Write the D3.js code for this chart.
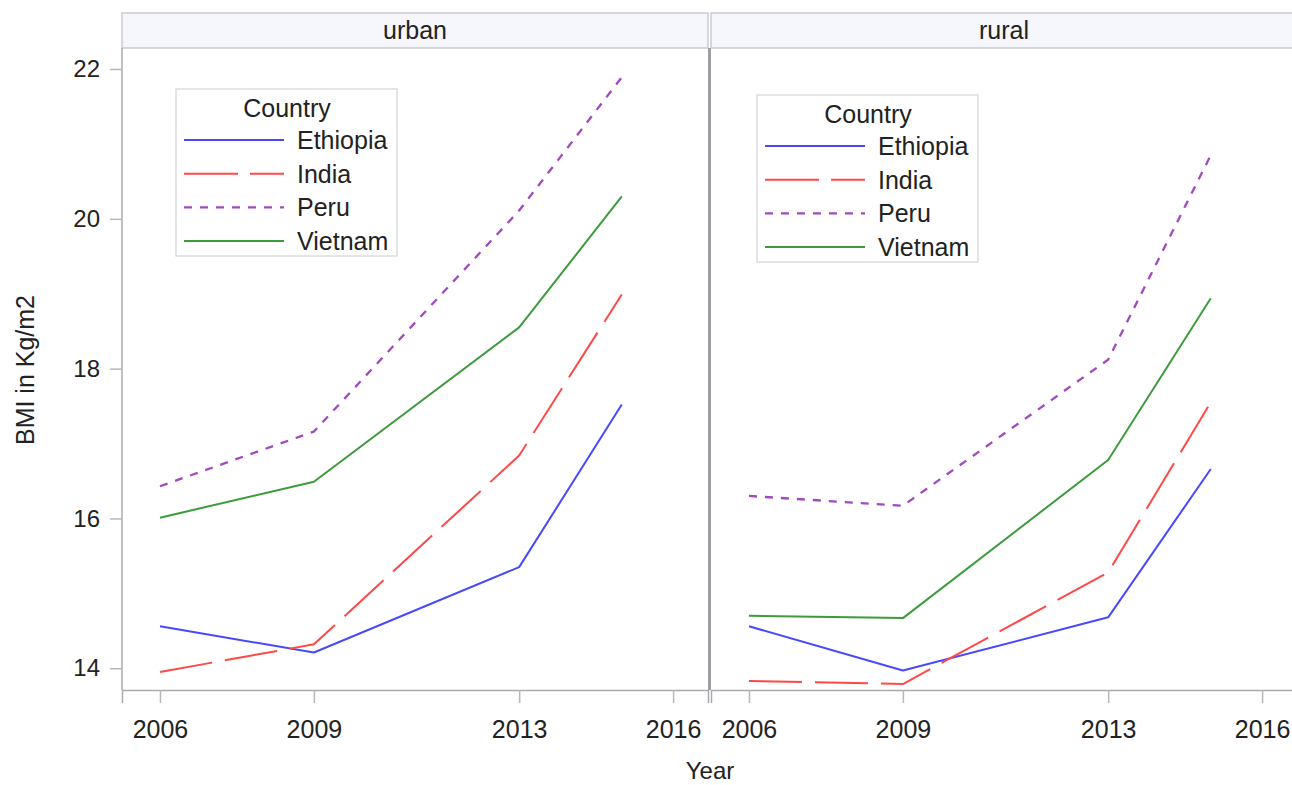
<!DOCTYPE html>
<html>
<head>
<meta charset="utf-8">
<script src="https://cdn.jsdelivr.net/npm/d3@7"></script>
<style>
  body { margin: 0; background: #fff; }
  svg text { font-family: "Liberation Sans", Arial, sans-serif; fill: #222; }
</style>
</head>
<body>
<svg id="chart" width="1292" height="785"></svg>
<script>
// Data: mean BMI by survey round, split by urban / rural residence
const years = [2006, 2009, 2013, 2015];
const panels = ["urban", "rural"];
const countries = ["Ethiopia", "India", "Peru", "Vietnam"];

const urbanEthiopia = [14.56, 14.21, 15.35, 17.52];
const urbanIndia    = [13.95, 14.32, 16.84, 18.99];
const urbanPeru     = [16.43, 17.16, 20.11, 21.89];
const urbanVietnam  = [16.01, 16.49, 18.55, 20.30];

const ruralEthiopia = [14.56, 13.97, 14.68, 16.66];
const ruralIndia    = [13.83, 13.79, 15.28, 17.55];
const ruralPeru     = [16.30, 16.17, 18.12, 20.85];
const ruralVietnam  = [14.70, 14.67, 16.78, 18.94];

const xTicks = [2006, 2009, 2013, 2016];
const yTicks = [14, 16, 18, 20, 22];

const seriesByPanel = {
  urban: [urbanEthiopia, urbanIndia, urbanPeru, urbanVietnam],
  rural: [ruralEthiopia, ruralIndia, ruralPeru, ruralVietnam]
};

const styles = {
  Ethiopia: { color: "#4848ff", dash: null, width: 2 },
  India:    { color: "#ff4848", dash: "53,13", width: 2 },
  Peru:     { color: "#a348bf", dash: "8,8", width: 2.3 },
  Vietnam:  { color: "#3c9b3c", dash: null, width: 2 }
};

const FONT = "'Liberation Sans', Arial, sans-serif";
const svg = d3.select("#chart");

// layout
const plotTop = 48, plotBottom = 690;
const stripTop = 13;
const panelLeft = [122, 711];
const panelWidth = 586;
const frameColor = "#a9abae";

const y = d3.scaleLinear().domain([13.71, 22.28]).range([plotBottom, plotTop]);

panels.forEach((p, i) => {
  const x0 = panelLeft[i];
  const x = d3.scaleLinear().domain([2005.26, 2016.68]).range([x0, x0 + panelWidth]);
  const g = svg.append("g");

  // header strip
  g.append("rect")
    .attr("x", x0).attr("y", stripTop)
    .attr("width", panelWidth).attr("height", plotTop - stripTop)
    .attr("fill", "#f5f7fd").attr("stroke", "#c9cbce").attr("stroke-width", 1.5);
  g.append("text")
    .attr("x", x0 + panelWidth / 2).attr("y", 39)
    .attr("text-anchor", "middle").attr("font-size", 25).text(p);

  // lines
  const line = d3.line().x((d, k) => x(years[k])).y(d => y(d));
  seriesByPanel[p].forEach((vals, k) => {
    const st = styles[countries[k]];
    g.append("path")
      .datum(vals)
      .attr("d", line)
      .attr("fill", "none")
      .attr("stroke", st.color)
      .attr("stroke-width", st.width)
      .attr("stroke-dasharray", st.dash)
      .attr("stroke-linejoin", "round");
  });

  // x axis
  const xAxis = d3.axisBottom(x).tickValues(xTicks).tickFormat(d3.format("d"))
    .tickSize(13).tickPadding(17);
  const ax = g.append("g").attr("transform", `translate(0,${plotBottom})`).call(xAxis);
  ax.select(".domain").attr("stroke", frameColor).attr("stroke-width", 1.5);
  ax.selectAll(".tick line").attr("stroke", "#b5b7ba").attr("stroke-width", 1.5);
  ax.selectAll(".tick text").attr("font-size", 25).attr("fill", "#222")
    .style("font-family", FONT);

  // legend
  const lx = i === 0 ? 176 : 757, ly = i === 0 ? 89 : 95;
  const lg = g.append("g").attr("transform", `translate(${lx},${ly})`);
  lg.append("rect").attr("width", 221).attr("height", 167)
    .attr("fill", "#fff").attr("stroke", "#d3d4d6").attr("stroke-width", 1.2);
  lg.append("text").attr("x", 111).attr("y", 28).attr("text-anchor", "middle")
    .attr("font-size", 25).text("Country");
  countries.forEach((c, k) => {
    const st = styles[c];
    const yy = 51 + k * 33.7;
    lg.append("line").attr("x1", 8).attr("x2", 108).attr("y1", yy).attr("y2", yy)
      .attr("stroke", st.color).attr("stroke-width", st.width)
      .attr("stroke-dasharray", c === "India" ? "54,12" : (c === "Peru" ? "8,8" : null));
    lg.append("text").attr("x", 121).attr("y", yy + 9).attr("font-size", 25).text(c);
  });
});

// panel frames
svg.append("line").attr("x1", 122).attr("x2", 122).attr("y1", plotTop).attr("y2", plotBottom)
  .attr("stroke", frameColor).attr("stroke-width", 1.5);
svg.append("line").attr("x1", 709.5).attr("x2", 709.5).attr("y1", plotTop).attr("y2", plotBottom)
  .attr("stroke", "#9c9ea1").attr("stroke-width", 3);

// y axis
const yAxis = d3.axisLeft(y).tickValues(yTicks).tickSize(12).tickPadding(10);
const ay = svg.append("g").attr("transform", "translate(122,0)").call(yAxis);
ay.select(".domain").remove();
ay.selectAll(".tick line").attr("stroke", "#b5b7ba").attr("stroke-width", 1.5);
ay.selectAll(".tick text").attr("font-size", 24).attr("fill", "#222")
  .style("font-family", FONT);

// axis titles
svg.append("text").attr("x", 710).attr("y", 779).attr("text-anchor", "middle")
  .attr("font-size", 24).text("Year");
svg.append("text").attr("transform", "translate(34,370) rotate(-90)")
  .attr("text-anchor", "middle").attr("font-size", 25).text("BMI in Kg/m2");
</script>
</body>
</html>
